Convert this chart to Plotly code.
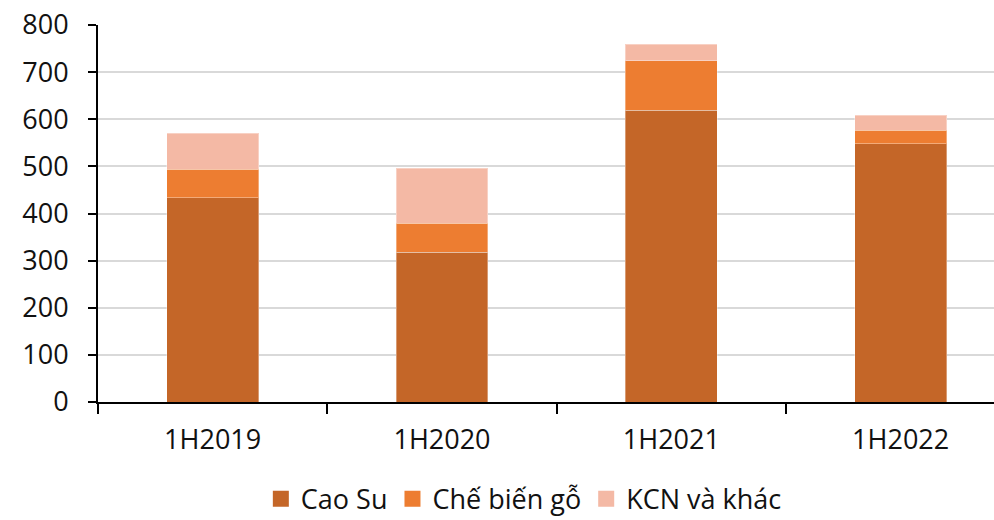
import plotly.graph_objects as go

categories = ["1H2019", "1H2020", "1H2021", "1H2022"]
cao_su = [433, 318, 619, 548]
che_bien_go = [61, 61, 105, 29]
kcn_khac = [76, 117, 35, 32]

series = [
    ("Cao Su", cao_su, "#C46628"),
    ("Chế biến gỗ", che_bien_go, "#ED7D31"),
    ("KCN và khác", kcn_khac, "#F4B9A5"),
]

fig = go.Figure()
for name, vals, color in series:
    fig.add_trace(go.Bar(
        x=categories, y=vals, name=name, showlegend=False,
        marker=dict(color=color, line=dict(color="rgba(255,255,255,0.35)", width=1)),
    ))
# legend entries with larger square swatches
for name, vals, color in series:
    fig.add_trace(go.Scatter(
        x=[None], y=[None], name=name, mode="markers",
        marker=dict(symbol="square", size=18, color=color),
    ))

font = "Open Sans, Noto Sans, sans-serif"
fig.update_layout(
    barmode="stack",
    bargap=0.6,
    width=994, height=520,
    margin=dict(l=98, r=0, t=25, b=118),
    paper_bgcolor="white", plot_bgcolor="white",
    font=dict(family=font, size=27, color="#111"),
    showlegend=True,
    legend=dict(orientation="h", xref="container", yref="container",
                x=0.527, xanchor="center", y=0.04, yanchor="middle",
                font=dict(size=27, family=font, color="#111"), traceorder="normal",
                itemwidth=30, tracegroupgap=0),
)
fig.update_xaxes(
    automargin=False,
    range=[-0.5, 3.407],
    tickfont=dict(size=27, family=font, color="#111"),
    showline=True, linecolor="black", linewidth=2,
    ticks="outside", tickson="boundaries", ticklen=10, tickwidth=1.5, tickcolor="black",
    ticklabelstandoff=13,
    showgrid=False,
)
fig.update_yaxes(
    automargin=False,
    tickfont=dict(size=27, family=font, color="#111"),
    range=[0, 800], dtick=100,
    showline=True, linecolor="black", linewidth=2,
    ticks="outside", ticklen=8, tickwidth=1.5, tickcolor="black",
    ticklabelstandoff=14,
    showgrid=True, gridcolor="#D9D9D9", gridwidth=1.5,
    zeroline=False,
)
fig.write_html(
    "out.html",
    config={"displayModeBar": False},
    post_script="document.body.style.margin='0';document.body.style.overflow='hidden';",
)
